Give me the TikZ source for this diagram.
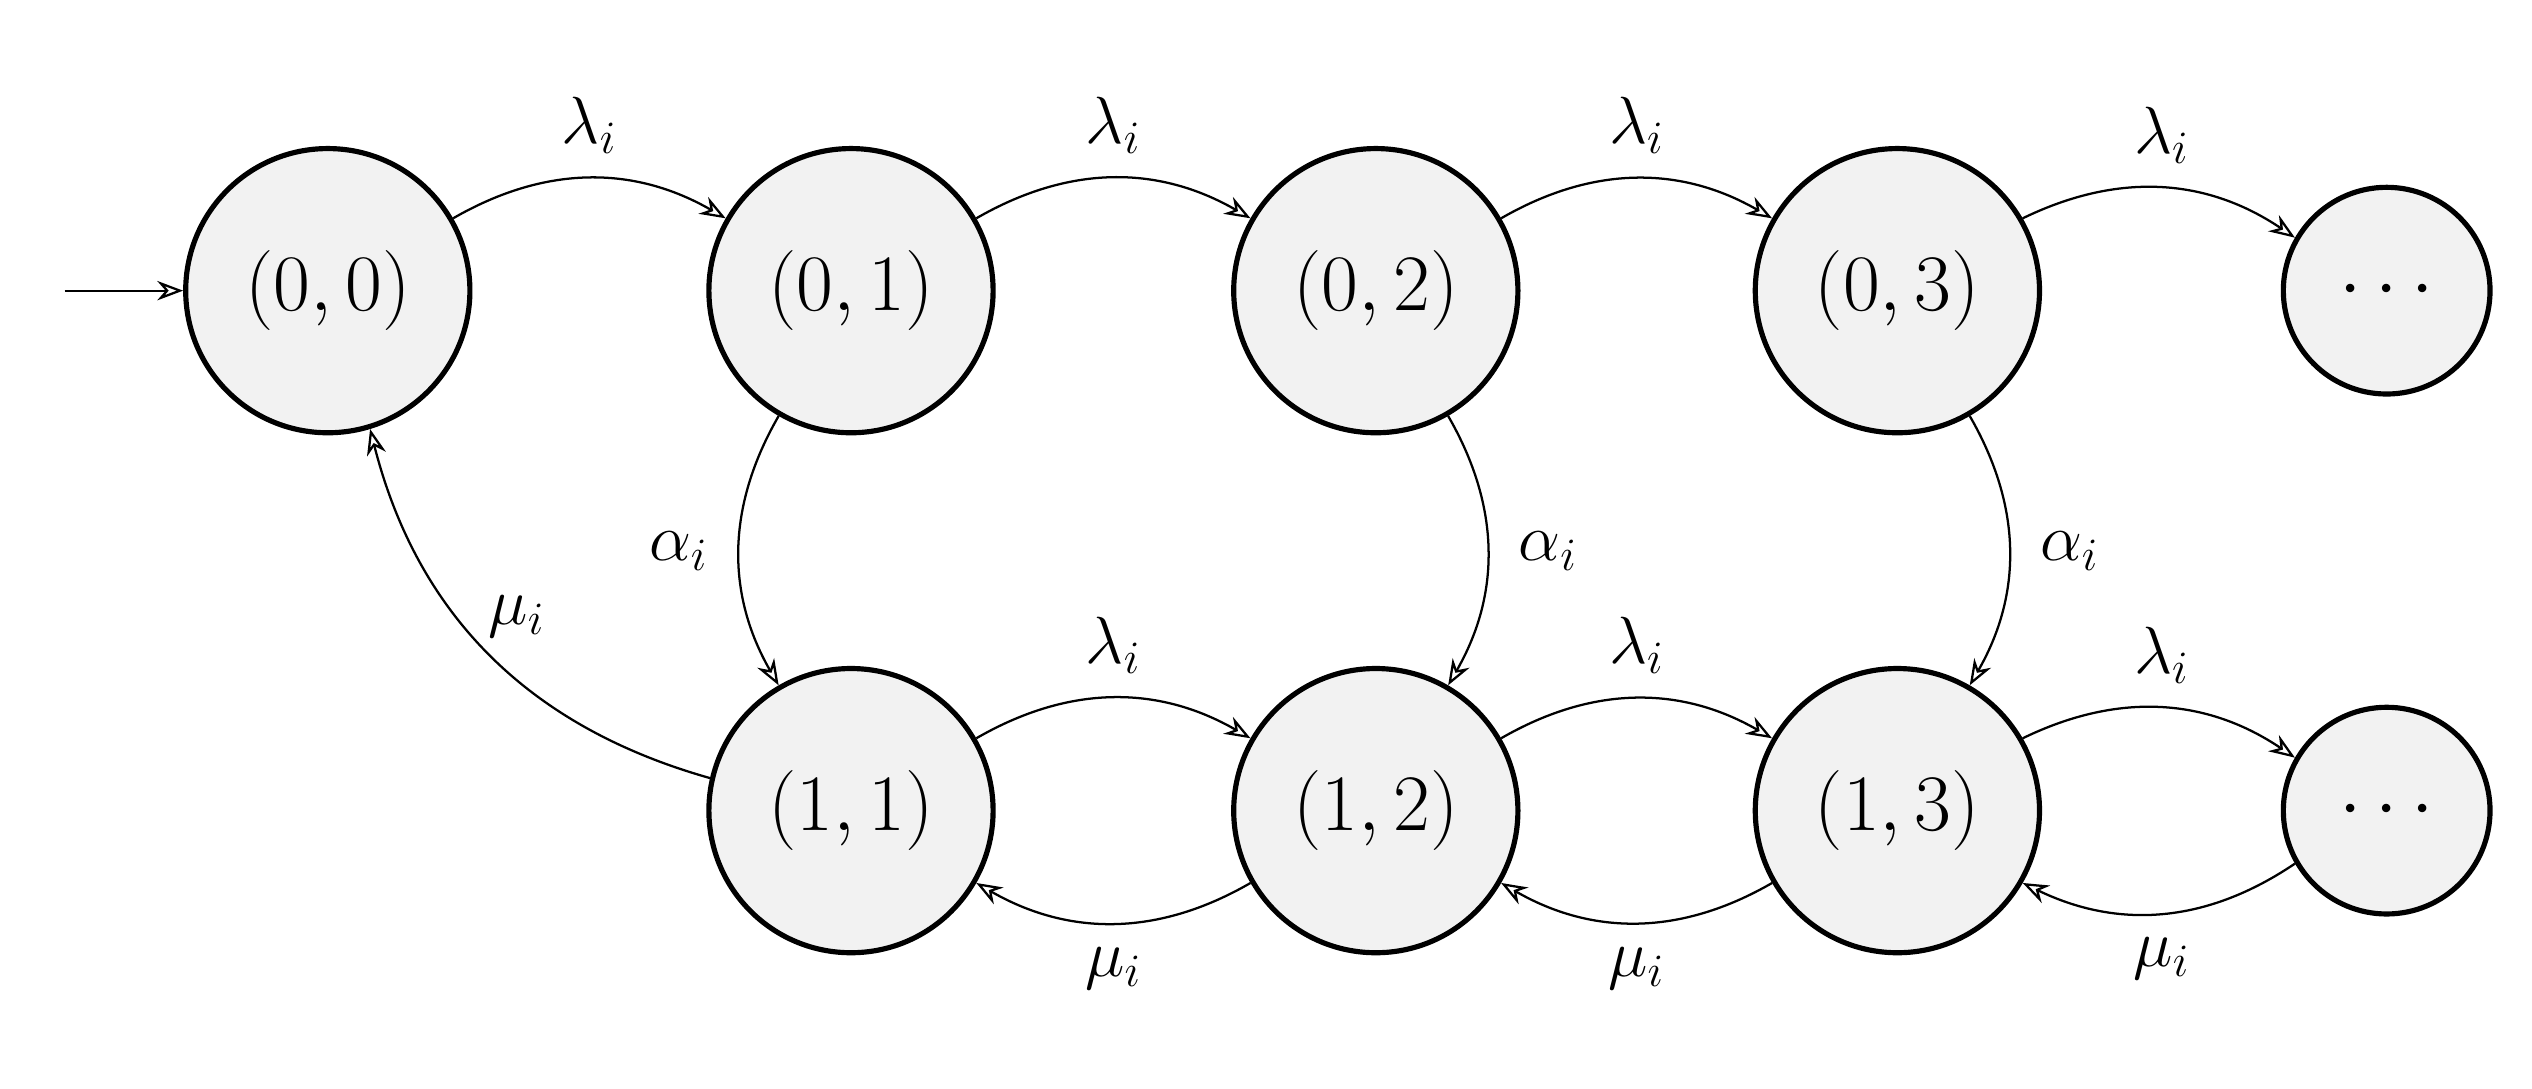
\documentclass[tikz,border=0pt]{standalone}
\usetikzlibrary{arrows.meta}
\begin{document}
\begin{tikzpicture}[x=0.5bp,y=-0.5bp,
  st/.style={circle,draw,line width=1.6bp,fill=gray!10,minimum size=88bp,inner sep=0pt,font=\fontsize{24}{28}\selectfont},
  dt/.style={circle,draw,line width=1.6bp,fill=gray!10,minimum size=64bp,inner sep=0pt,font=\fontsize{24}{28}\selectfont},
  e/.style={-{Stealth[length=8bp,width=6bp,open]},line width=0.7bp,shorten >=0pt},
  lb/.style={font=\fontsize{22}{26}\selectfont}]
\useasboundingbox (0,0) rectangle (1568,674);
\node[st] (a) at (203,180) {$(0,0)$};
\node[st] (b) at (527,180) {$(0,1)$};
\node[st] (c) at (852,180) {$(0,2)$};
\node[st] (d) at (1175,180) {$(0,3)$};
\node[dt] (t1) at (1478,180) {$\cdots$};
\node[st] (p) at (527,502) {$(1,1)$};
\node[st] (q) at (852,502) {$(1,2)$};
\node[st] (r) at (1175,502) {$(1,3)$};
\node[dt] (t2) at (1478,502) {$\cdots$};
\coordinate (s) at (40,180);
\draw[e] (s) -- (a);
\draw[e] (a) to[bend left=30] node[lb,above=4bp]{$\lambda_i$} (b);
\draw[e] (b) to[bend left=30] node[lb,above=4bp]{$\lambda_i$} (c);
\draw[e] (c) to[bend left=30] node[lb,above=4bp]{$\lambda_i$} (d);
\draw[e] (d) to[bend left=30] node[lb,above=4bp]{$\lambda_i$} (t1);
\draw[e] (p) to[bend left=30] node[lb,above=4bp]{$\lambda_i$} (q);
\draw[e] (q) to[bend left=30] node[lb,above=4bp]{$\lambda_i$} (r);
\draw[e] (r) to[bend left=30] node[lb,above=4bp]{$\lambda_i$} (t2);
\draw[e] (q) to[bend left=30] node[lb,below=4bp]{$\mu_i$} (p);
\draw[e] (r) to[bend left=30] node[lb,below=4bp]{$\mu_i$} (q);
\draw[e] (t2) to[bend left=30] node[lb,below=4bp]{$\mu_i$} (r);
\draw[e] (b.-120) to[bend right=30] node[lb,left=6bp]{$\alpha_i$} (p.120);
\draw[e] (c.-60) to[bend left=30] node[lb,right=6bp]{$\alpha_i$} (q.60);
\draw[e] (d.-60) to[bend left=30] node[lb,right=6bp]{$\alpha_i$} (r.60);
\draw[e] (p.167) to[bend left=30] node[lb,pos=0.6,right=6bp]{$\mu_i$} (a.-73);
\end{tikzpicture}
\end{document}
